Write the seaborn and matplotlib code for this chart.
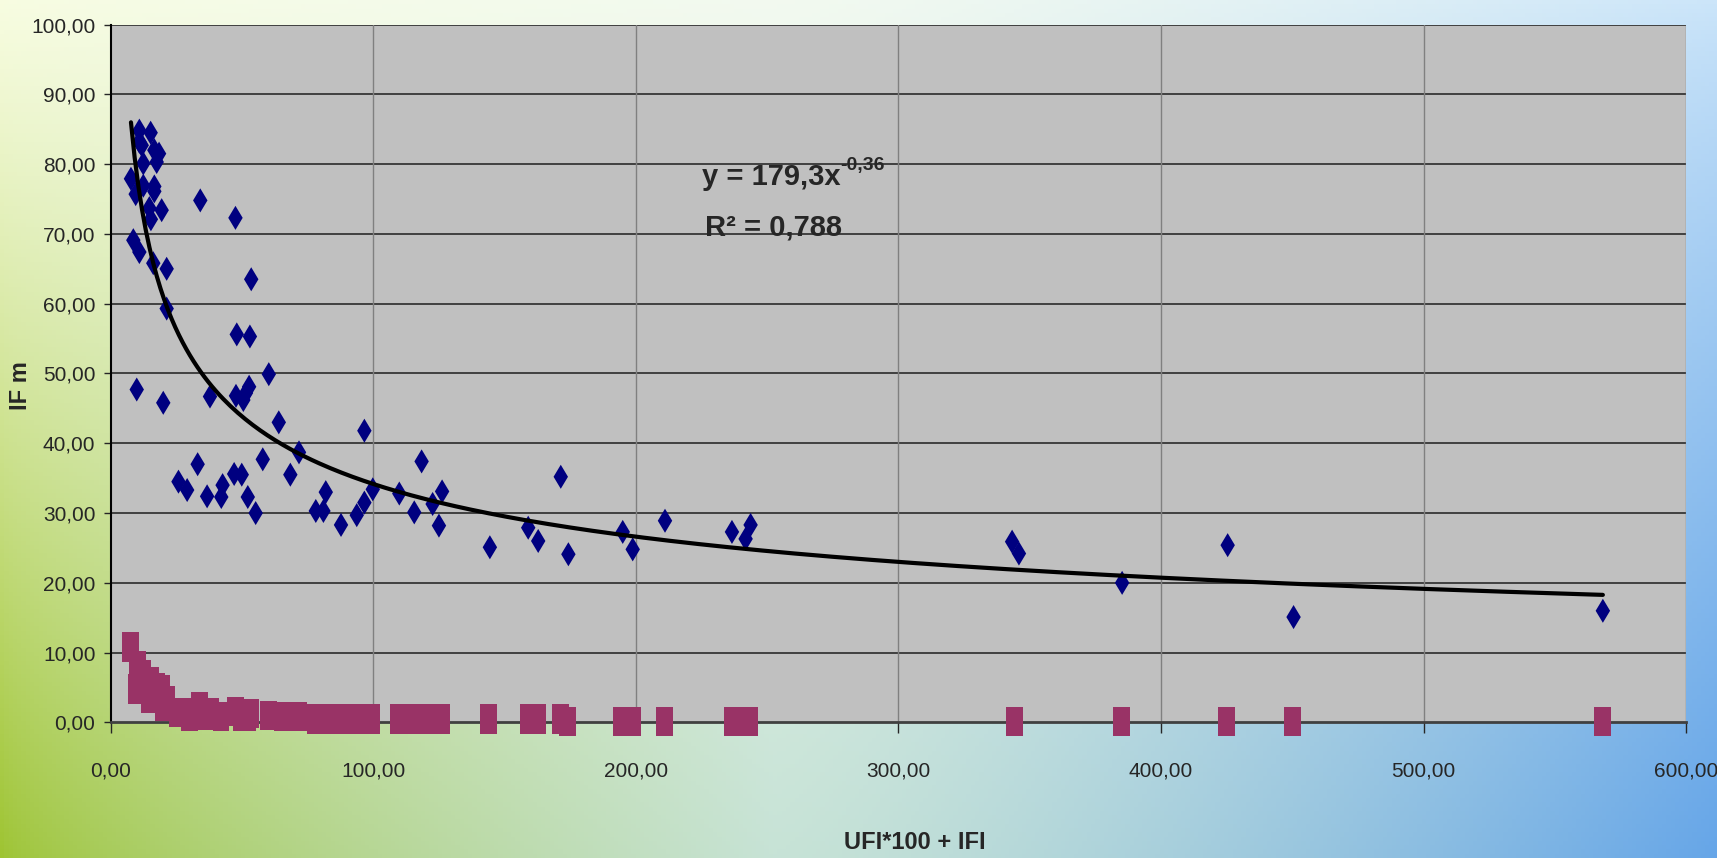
import numpy as np
import matplotlib
matplotlib.use("Agg")
import matplotlib.pyplot as plt
from matplotlib.markers import MarkerStyle
from matplotlib.path import Path
import seaborn as sns

# diamonds: IF m against UFI*100 + IFI
ifm_x = [10.9, 15.2, 10.9, 11.8, 16.6, 18.4, 17.5, 12.4, 7.7, 12.4, 16.6, 16.6, 9.5, 34.1,
         14.7, 19.4, 15.3, 47.5, 8.6, 10.9, 16.2, 21.3, 53.5,
         21.3, 48.0, 53.0, 9.9, 20.0, 37.8, 47.7, 50.5, 51.5, 52.7, 60.2, 64.0, 96.6, 33.1,
         57.9, 71.7, 118.4, 25.8, 29.1, 36.7, 42.6, 42.1, 47.0, 49.9, 52.2, 55.2, 68.4, 81.9,
         78.1, 81.0, 96.6, 99.8, 93.7, 109.9, 115.6, 122.6, 126.2, 87.7, 125.0,
         144.4, 171.4, 159.0, 162.8, 174.3, 195.0, 198.8, 211.1, 236.6, 241.8, 243.7,
         343.3, 345.9, 385.2, 425.4, 450.5, 568.3]
ifm_y = [84.8, 84.5, 83.2, 82.7, 82.0, 81.5, 80.3, 80.1, 77.9, 76.9, 76.8, 76.1, 75.7, 74.8,
         73.7, 73.4, 72.1, 72.3, 69.1, 67.4, 65.8, 65.0, 63.5,
         59.3, 55.6, 55.3, 47.7, 45.8, 46.7, 46.8, 46.2, 47.2, 48.1, 49.9, 43.0, 41.8, 37.0,
         37.7, 38.7, 37.4, 34.5, 33.3, 32.4, 34.0, 32.3, 35.6, 35.5, 32.3, 30.0, 35.5, 33.0,
         30.3, 30.3, 31.5, 33.4, 29.7, 32.8, 30.1, 31.3, 33.1, 28.3, 28.2,
         25.1, 35.2, 27.9, 26.0, 24.1, 27.3, 24.8, 28.9, 27.3, 26.3, 28.3,
         25.9, 24.2, 20.0, 25.4, 15.1, 16.0]

# squares: second series
sq_x = [7.5, 10.2, 12.0, 15.0, 17.5, 19.3, 21.3, 25.3, 28.0, 33.8, 38.2, 47.4, 53.2, 60.0,
        65.4, 68.8, 71.4, 77.8, 81.2, 87.2, 93.5, 99.4, 109.6, 115.6, 120.7, 126.1, 144.0,
        158.9, 162.7, 171.2, 173.9, 194.6, 198.9, 210.9, 236.6, 240.0, 243.4,
        344.2, 385.0, 425.0, 450.2, 568.0,
        9.8, 14.8, 19.9, 36.5, 42.0, 30.0, 49.9, 52.0]
sq_y = [10.8, 8.1, 6.8, 5.8, 5.0, 4.7, 3.2, 1.4, 1.4, 2.3, 1.4, 1.6, 1.3, 1.0,
        0.8, 0.8, 0.8, 0.5, 0.5, 0.5, 0.5, 0.5, 0.5, 0.5, 0.5, 0.5, 0.5,
        0.5, 0.5, 0.5, 0.1, 0.1, 0.1, 0.1, 0.1, 0.1, 0.1,
        0.1, 0.1, 0.1, 0.1, 0.1,
        4.8, 3.4, 2.3, 1.0, 0.8, 0.8, 0.8, 0.8]

# power trend line shown on the chart
trend_a = 179.3
trend_b = -0.36
eq_text = "y = 179,3x"
eq_exp = "-0,36"
r2_text = "R² = 0,788"

y_ticks = list(range(0, 101, 10))
x_ticks = list(range(0, 601, 100))

def comma(v):
    return f"{v:.2f}".replace(".", ",")

sns.set_style("white")
plt.rcParams["font.family"] = ["Liberation Sans Narrow", "Liberation Sans", "DejaVu Sans"]

fig = plt.figure(figsize=(17.17, 8.58), dpi=100)

# background wash
h, w = 200, 400
yy, xx = np.mgrid[0:1:h * 1j, 0:1:w * 1j]
lt, lb = np.array([0.97, 0.99, 0.88]), np.array([0.62, 0.77, 0.20])
mt, mb = np.array([0.95, 0.98, 0.94]), np.array([0.78, 0.89, 0.84])
rt, rb = np.array([0.80, 0.90, 0.98]), np.array([0.40, 0.65, 0.91])
left = lt + (lb - lt) * yy[..., None] ** 1.1
mid = mt + (mb - mt) * yy[..., None]
right = rt + (rb - rt) * yy[..., None] ** 0.8
t1 = np.clip(xx / 0.45, 0, 1)[..., None]
t2 = np.clip((xx - 0.45) / 0.55, 0, 1)[..., None]
bg = np.where(xx[..., None] < 0.45, left + (mid - left) * t1 ** 0.7, mid + (right - mid) * t2 ** 1.3)
bg_ax = fig.add_axes([0, 0, 1, 1], zorder=-1)
bg_ax.imshow(np.clip(bg, 0, 1), aspect="auto", extent=[0, 1, 0, 1])
bg_ax.axis("off")

ax = fig.add_axes([0.0645, 0.158, 0.9175, 0.8134])
ax.set_facecolor("#C0C0C0")

diamond = MarkerStyle(Path([(0, 1), (0.6, 0), (0, -1), (-0.6, 0), (0, 1)], closed=True))
rect = MarkerStyle(Path([(-0.58, -1), (0.58, -1), (0.58, 1), (-0.58, 1), (-0.58, -1)], closed=True))

sns.scatterplot(x=sq_x, y=sq_y, ax=ax, marker=rect, s=440, color="#993366",
                edgecolor="none", linewidth=0, clip_on=False, zorder=3)
sns.scatterplot(x=ifm_x, y=ifm_y, ax=ax, marker=diamond, s=300, color="#000080",
                edgecolor="none", linewidth=0, clip_on=False, zorder=4)

xs = np.linspace(min(ifm_x), max(ifm_x), 400)
sns.lineplot(x=xs, y=trend_a * xs ** trend_b, ax=ax, color="black", lw=3, zorder=5)

ax.set_xlim(0, 600)
ax.set_ylim(0, 100)
ax.set_yticks(y_ticks)
ax.set_xticks(x_ticks)
ax.set_yticklabels([comma(v) for v in y_ticks], fontsize=15)
ax.set_xticklabels([comma(v) for v in x_ticks], fontsize=15)
ax.tick_params(axis="y", direction="out", length=5, width=1, pad=6, left=True)
ax.tick_params(axis="x", direction="out", length=8, width=1, pad=20, bottom=True)

for v in y_ticks[1:]:
    ax.axhline(v, color="#2a2a2a", lw=1.2, zorder=1)
for v in x_ticks[1:]:
    ax.axvline(v, color="#808080", lw=1.0, zorder=1)

for s in ["top", "right"]:
    ax.spines[s].set_visible(False)
ax.spines["left"].set_color("black")
ax.spines["left"].set_linewidth(1.5)
ax.spines["bottom"].set_color("#404040")
ax.spines["bottom"].set_linewidth(2)

t = ax.text(225, 77, eq_text, ha="left", va="baseline", fontsize=21, fontweight="bold", zorder=6)
ax.annotate(eq_exp, xy=(1, 0.92), xycoords=t, ha="left", va="center",
            fontsize=14, fontweight="bold", zorder=6)
ax.text(252.5, 69.8, r2_text, ha="center", va="baseline", fontsize=21, fontweight="bold", zorder=6)

fig.text(0.533, 0.0175, "UFI*100 + IFI", ha="center", va="center", fontsize=17, fontweight="bold")
fig.text(0.0117, 0.551, "IF m", ha="center", va="center", rotation=90, fontsize=17, fontweight="bold")

fig.savefig("out.png", dpi=100)
